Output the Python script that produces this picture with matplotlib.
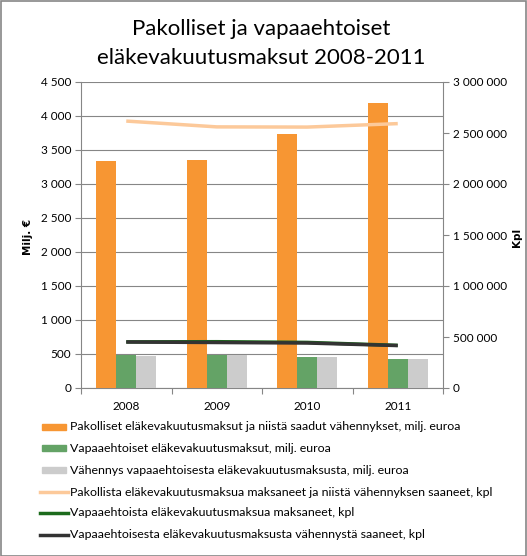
import numpy as np
import matplotlib
matplotlib.use("Agg")
import matplotlib.pyplot as plt
from matplotlib.patches import Rectangle
from matplotlib.ticker import FuncFormatter

plt.rcParams['font.family'] = ['Lato', 'DejaVu Sans']

years = ["2008", "2009", "2010", "2011"]

# milj. euroa (left axis)
pakolliset = [3335, 3348, 3730, 4185]
vapaaeht = [480, 480, 455, 422]
vahennys = [466, 480, 455, 422]

# kpl (right axis)
pak_kpl = [2617000, 2560000, 2558000, 2592000]
vap_kpl = [452000, 454000, 447000, 418000]
vah_kpl = [451000, 446000, 441000, 416000]

labels = [
    "Pakolliset eläkevakuutusmaksut ja niistä saadut vähennykset, milj. euroa",
    "Vapaaehtoiset eläkevakuutusmaksut, milj. euroa",
    "Vähennys vapaaehtoisesta eläkevakuutusmaksusta, milj. euroa",
    "Pakollista eläkevakuutusmaksua maksaneet ja niistä vähennyksen saaneet, kpl",
    "Vapaaehtoista eläkevakuutusmaksua maksaneet, kpl",
    "Vapaaehtoisesta eläkevakuutusmaksusta vähennystä saaneet, kpl",
]

c_orange = "#f79633"
c_green = "#64a366"
c_gray = "#cccccc"
c_lorange = "#fcc99a"
c_dgreen = "#1c6b1c"
c_black = "#333333"
axis_col = "#868686"

fig = plt.figure(figsize=(5.27, 5.56), dpi=100)
W, H = 527, 556
ax = fig.add_axes([81 / W, 1 - 388 / H, 362 / W, 306 / H])
ax2 = ax.twinx()

x = np.arange(len(years))
bw = 0.22
ax.bar(x - bw, pakolliset, bw, color=c_orange, zorder=3)
ax.bar(x, vapaaeht, bw, color=c_green, zorder=3)
ax.bar(x + bw, vahennys, bw, color=c_gray, zorder=3)

ax2.plot(x, pak_kpl, color=c_lorange, lw=2.5, solid_capstyle='butt')
ax2.plot(x, vap_kpl, color=c_dgreen, lw=2.5, solid_capstyle='butt')
ax2.plot(x, vah_kpl, color=c_black, lw=2.5, solid_capstyle='butt')

fmt = FuncFormatter(lambda v, p: f"{int(v):,}".replace(",", " "))

ax.set_xlim(-0.5, 3.5)
ax.set_ylim(0, 4500)
ax.set_yticks(np.arange(0, 4501, 500))
ax.yaxis.set_major_formatter(fmt)
ax.grid(axis='y', color=axis_col, lw=0.8, zorder=0)
ax.set_xticks(np.arange(-0.5, 4, 1))
ax.set_xticklabels([])
ax.set_xticks(x, minor=True)
ax.set_xticklabels(years, minor=True)
ax.tick_params(axis='x', which='minor', length=0, pad=9, labelsize=8.5)
ax.tick_params(axis='x', which='major', length=4, color=axis_col)
ax.tick_params(axis='y', length=4, color=axis_col, labelsize=8.5, pad=3)

ax2.set_ylim(0, 3000000)
ax2.set_yticks(np.arange(0, 3000001, 500000))
ax2.yaxis.set_major_formatter(fmt)
ax2.tick_params(axis='y', length=4, color=axis_col, labelsize=8.5, pad=3)

for a in (ax, ax2):
    for s in a.spines.values():
        s.set_visible(False)
ax.spines['left'].set_visible(True)
ax.spines['left'].set_color(axis_col)
ax.spines['bottom'].set_visible(True)
ax.spines['bottom'].set_color(axis_col)
ax2.spines['right'].set_visible(True)
ax2.spines['right'].set_color(axis_col)

fig.text(28 / W, 1 - 237 / H, "Milj. €", rotation=90, ha='center', va='center',
         fontsize=7.5, fontweight='bold', family='DejaVu Sans')
fig.text(517 / W, 1 - 237 / H, "Kpl", rotation=90, ha='center', va='center',
         fontsize=7.5, fontweight='bold', family='DejaVu Sans')

fig.text(261 / W, 1 - 29 / H, "Pakolliset ja vapaaehtoiset", ha='center', va='center',
         fontsize=16)
fig.text(261 / W, 1 - 58 / H, "eläkevakuutusmaksut 2008-2011", ha='center', va='center',
         fontsize=16)

# legend
leg_y = [427, 448, 470, 492, 513, 535]
cols = [c_orange, c_green, c_gray, c_lorange, c_dgreen, c_black]
for i, (lab, col) in enumerate(zip(labels, cols)):
    yy = 1 - leg_y[i] / H
    if i < 3:
        fig.patches.append(Rectangle((42 / W, yy - 3 / H), 24 / W, 6 / H,
                                     transform=fig.transFigure, color=col))
    else:
        fig.lines.append(plt.Line2D([40 / W, 68 / W], [yy, yy], transform=fig.transFigure,
                                    color=col, lw=2.5))
    fig.text(70 / W, yy, lab, ha='left', va='center', fontsize=8.9)

# outer frame
fig.patches.append(Rectangle((0.5 / W, 0.5 / H), 1 - 1.5 / W, 1 - 1.5 / H,
                             transform=fig.transFigure, fill=False,
                             edgecolor=axis_col, lw=1.2))

fig.savefig("out.png", dpi=100)
